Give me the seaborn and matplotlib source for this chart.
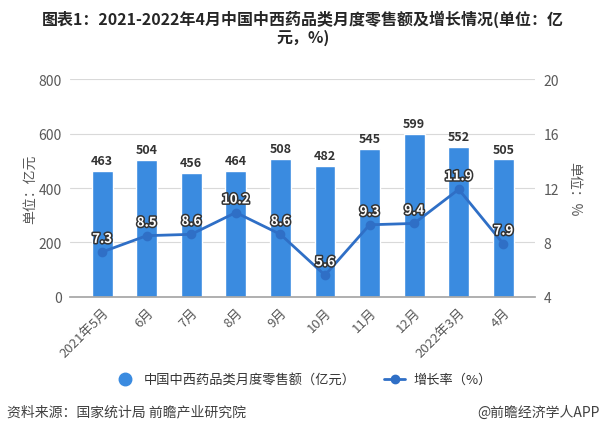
import pandas as pd
import seaborn as sns
import matplotlib.pyplot as plt
import matplotlib.patheffects as pe
from matplotlib.lines import Line2D

months = ["2021年5月", "6月", "7月", "8月", "9月", "10月", "11月", "12月", "2022年3月", "4月"]
sales = [463, 504, 456, 464, 508, 482, 545, 599, 552, 505]
growth = [7.3, 8.5, 8.6, 10.2, 8.6, 5.6, 9.3, 9.4, 11.9, 7.9]
left_ticks = [0, 200, 400, 600, 800]
right_ticks = [4, 8, 12, 16, 20]

sns.set_theme(style="white")
plt.rcParams['font.family'] = ['Noto Sans CJK SC', 'DejaVu Sans']

bar_color = "#3a8be0"
line_color = "#2f6fc6"
grey = "#595959"

df = pd.DataFrame({"month": months, "sales": sales, "growth": growth})
df["pos"] = range(len(months))

fig = plt.figure(figsize=(6.06, 4.35), dpi=100)
ax = fig.add_axes([0.1155, 0.315, 0.768, 0.501])

sns.barplot(data=df, x="month", y="sales", color=bar_color, width=0.47,
            saturation=1, ax=ax)
for i, v in enumerate(sales):
    ax.text(i, v + 14, str(v), ha="center", va="bottom", fontsize=9,
            fontweight="bold", color="#333333")

ax.set_ylim(0, 800)
ax.set_yticks(left_ticks)
ax.set_xlim(-0.72, len(months) - 0.28)
ax.yaxis.grid(True, color="#d9d9d9", linewidth=0.8)
ax.set_axisbelow(True)
for s in ["top", "right", "left"]:
    ax.spines[s].set_visible(False)
ax.spines["bottom"].set_color("#a6a6a6")
ax.tick_params(axis="y", length=0, labelsize=10, labelcolor=grey, pad=6)
ax.tick_params(axis="x", length=4, color="#a6a6a6", labelsize=9.5, labelcolor=grey, pad=2)
ax.set_xticks(range(len(months)))
ax.set_xticklabels(months, rotation=45, ha="right", rotation_mode="anchor")
ax.set_xlabel("")
ax.set_ylabel("")

ax2 = ax.twinx()
sns.lineplot(data=df, x="pos", y="growth", color=line_color, linewidth=2,
             marker="o", markersize=7, markeredgewidth=0, ax=ax2)
ax2.set_ylim(4, 20)
ax2.set_yticks(right_ticks)
ax2.set_xlim(ax.get_xlim())
for s in ["top", "right", "left", "bottom"]:
    ax2.spines[s].set_visible(False)
ax2.tick_params(axis="y", length=0, labelsize=10, labelcolor=grey, pad=6)
ax2.set_xlabel("")
ax2.set_ylabel("")
for i, v in enumerate(growth):
    ax2.text(i, v + 0.45, f"{v}", ha="center", va="bottom", fontsize=9.5,
             color="white", fontweight="bold",
             path_effects=[pe.withStroke(linewidth=2.2, foreground="#333333")])

fig.text(0.5, 0.955, "图表1：2021-2022年4月中国中西药品类月度零售额及增长情况(单位：亿",
         ha="center", va="center", fontsize=11.5, fontweight="bold", color="#262626")
fig.text(0.5, 0.913, "元，%)", ha="center", va="center", fontsize=11.5,
         fontweight="bold", color="#262626")

fig.text(0.05, 0.565, "单位：亿元", rotation=90, ha="center", va="center",
         fontsize=10, color=grey)
fig.text(0.948, 0.565, "单位：%", rotation=270, ha="center", va="center",
         fontsize=10, color=grey)

handles = [
    Line2D([], [], linestyle="none", marker="o", markersize=9, color=bar_color),
    Line2D([], [], color=line_color, linewidth=2, marker="o", markersize=6),
]
fig.legend(handles, ["中国中西药品类月度零售额（亿元）", "增长率（%）"],
           loc="center", bbox_to_anchor=(0.5, 0.125), ncol=2, frameon=False,
           fontsize=9.5, handlelength=1.6, columnspacing=2.2, handletextpad=0.6,
           labelcolor="#333333")

fig.text(0.012, 0.052, "资料来源：国家统计局 前瞻产业研究院", ha="left", va="center",
         fontsize=10, color="#404040")
fig.text(0.99, 0.052, "@前瞻经济学人APP", ha="right", va="center",
         fontsize=10, color="#404040")

fig.savefig("out.png", dpi=100)
